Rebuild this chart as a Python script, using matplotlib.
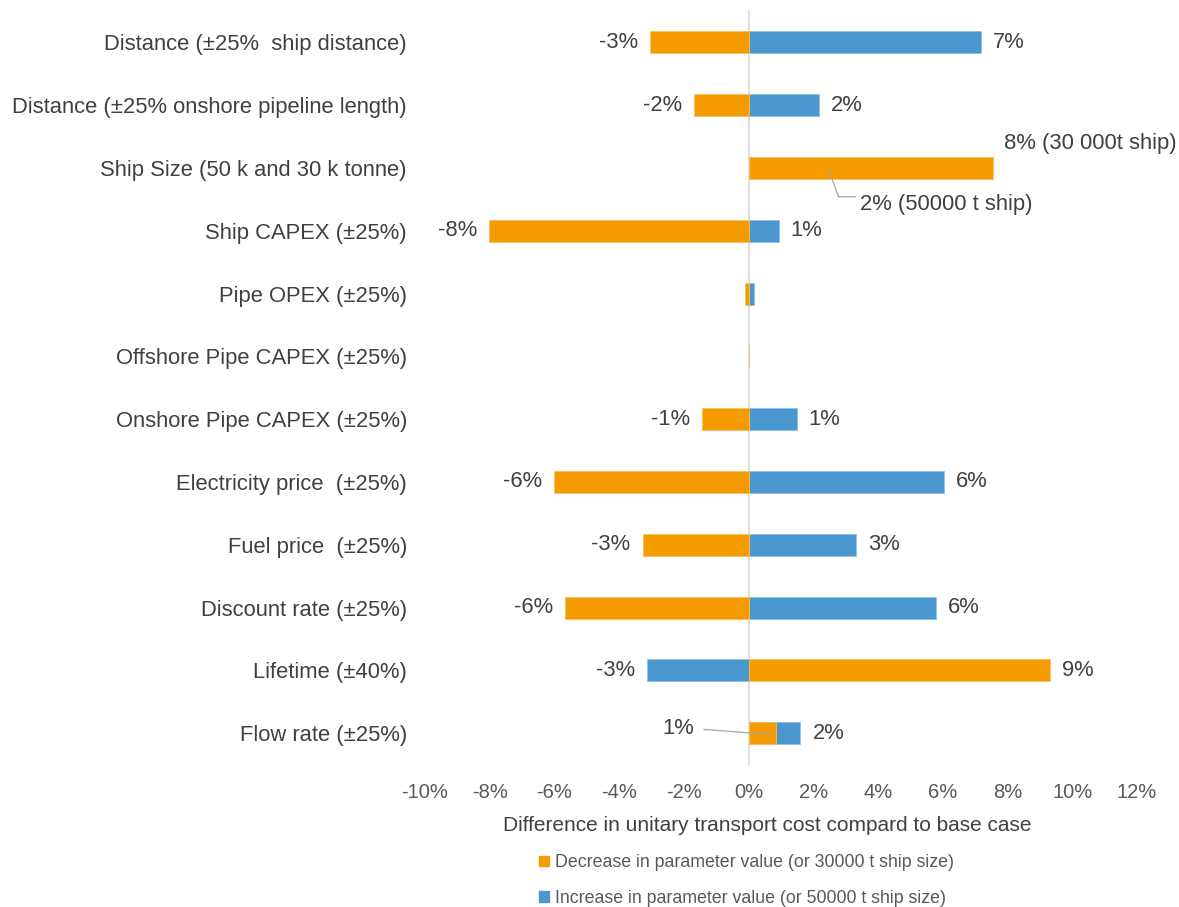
import matplotlib
matplotlib.use("Agg")
import matplotlib.pyplot as plt
from matplotlib.patches import Patch

plt.rcParams['font.family'] = ['Liberation Sans', 'DejaVu Sans']

categories = [
    "Distance (±25%  ship distance)",
    "Distance (±25% onshore pipeline length)",
    "Ship Size (50 k and 30 k tonne)",
    "Ship CAPEX (±25%)",
    "Pipe OPEX (±25%)",
    "Offshore Pipe CAPEX (±25%)",
    "Onshore Pipe CAPEX (±25%)",
    "Electricity price  (±25%)",
    "Fuel price  (±25%)",
    "Discount rate (±25%)",
    "Lifetime (±40%)",
    "Flow rate (±25%)",
]
# change in unitary transport cost, percent
decrease = [-3.06, -1.70, 7.55, -8.03, -0.10, 0.0, -1.45, -6.00, -3.28, -5.66, 9.30, 0.83]
increase = [7.17, 2.16, 2.0, 0.93, 0.15, 0.0, 1.48, 6.03, 3.31, 5.78, -3.15, 1.60]
xticks = [-10, -8, -6, -4, -2, 0, 2, 4, 6, 8, 10, 12]
legend_labels = ["Decrease in parameter value (or 30000 t ship size)",
                 "Increase in parameter value (or 50000 t ship size)"]

ORANGE = "#F59B00"
BLUE = "#4B97D0"
TXT = "#404040"
TICK = "#595959"
FS = 15.8

fig = plt.figure(figsize=(11.79, 9.07), dpi=100)
ax = fig.add_axes([0.3605, 0.157, 0.6039, 0.831])

y = list(range(len(categories)))
h = 0.35
ax.barh(y, increase, height=h, color=BLUE, edgecolor="#8fc0e6", linewidth=0.6, zorder=2)
ax.barh(y, decrease, height=h, color=ORANGE, edgecolor="#f8c060", linewidth=0.6, zorder=3)

ax.set_xlim(-10, 12)
ax.set_ylim(len(categories) - 0.5, -0.5)
ax.axvline(0, color="#d9d9d9", linewidth=1.2, zorder=1)
for s in ax.spines.values():
    s.set_visible(False)

ax.set_yticks(y)
ax.set_yticklabels(categories, fontsize=FS, color=TXT)
ax.set_xticks(xticks)
ax.set_xticklabels([f"{t}%" for t in xticks], fontsize=14.5, color=TICK)
ax.tick_params(axis="both", length=0)
ax.tick_params(axis="y", pad=13)
ax.tick_params(axis="x", pad=13)
ax.set_xlabel("Difference in unitary transport cost compard to base case",
              fontsize=15, color=TXT)
ax.xaxis.set_label_coords(0.48, -0.068)

pad = 0.37


def place(v, yi, text):
    if v < 0:
        ax.text(v - pad, yi, text, ha="right", va="center", fontsize=FS, color=TXT)
    else:
        ax.text(v + pad, yi, text, ha="left", va="center", fontsize=FS, color=TXT)


ship_row = 2
flow_row = 11
for i, (d, u) in enumerate(zip(decrease, increase)):
    if i == ship_row:
        # both sizes raise the cost; label them with leaders
        ax.text(d + 0.33, i - 0.39, f"{round(d):.0f}% (30 000t ship)", ha="left", va="center",
                fontsize=FS, color=TXT)
        ax.plot([2.47, 2.78, 3.3], [i + 0.03, i + 0.46, i + 0.46], color="#a6a6a6", lw=0.9, zorder=4)
        ax.text(3.45, i + 0.59, f"{round(u):.0f}% (50000 t ship)", ha="left", va="center",
                fontsize=FS, color=TXT)
        continue
    if i == flow_row:
        ax.plot([-1.38, d * 0.8], [i - 0.06, i + 0.02], color="#a6a6a6", lw=0.9, zorder=4)
        ax.text(-1.68, i - 0.08, f"{round(d):.0f}%", ha="right", va="center", fontsize=FS, color=TXT)
        place(u, i, f"{round(u):.0f}%")
        continue
    if abs(d) >= 0.5:
        place(d, i, f"{round(d):.0f}%")
    if abs(u) >= 0.5:
        place(u, i, f"{round(u):.0f}%")

handles = [Patch(color=ORANGE), Patch(color=BLUE)]
fig.legend(handles, legend_labels, loc="upper left", bbox_to_anchor=(0.451, 0.066),
           frameon=False, fontsize=12.8, handlelength=0.55, handleheight=0.55,
           handletextpad=0.35, labelspacing=1.05, labelcolor=TICK, borderaxespad=0)

fig.savefig("out.png", dpi=100, facecolor="white")
